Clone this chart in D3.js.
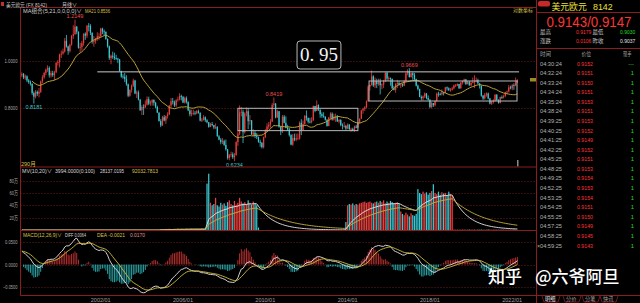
<!DOCTYPE html>
<html><head><meta charset="utf-8">
<script src="https://cdn.jsdelivr.net/npm/d3@7"></script>
<style>
html,body{margin:0;padding:0;background:#000;overflow:hidden;}
svg{display:block;}
</style></head><body>
<svg id="c" width="640" height="303"></svg>
<script>
// ---------------- data (USD/EUR monthly, 1998/03 .. 2022/04) ----------------
const firstMonth = [1998, 3];
const firstOpen = 0.935;
const closes = [
.940,.925,.930,.912,.905,.898,.860,.845,.865,.857,
.865,.908,.926,.945,.960,.968,.935,.944,.935,.948,.991,.995,
1.032,1.036,1.046,1.100,1.071,1.048,1.080,1.126,1.135,1.176,1.148,1.065,
1.068,1.088,1.137,1.127,1.181,1.180,1.142,1.097,1.098,1.110,1.124,1.125,
1.165,1.150,1.147,1.110,1.072,1.014,1.025,1.020,1.014,1.011,1.007,.953,
.929,.928,.918,.896,.849,.872,.890,.912,.858,.862,.834,.793,
.805,.804,.814,.835,.818,.822,.832,.821,.805,.784,.753,.738,
.767,.755,.771,.777,.811,.827,.824,.811,.831,.834,.848,.844,
.822,.839,.824,.792,.778,.782,.783,.781,.789,.783,.755,.758,
.767,.756,.749,.733,.743,.739,.731,.733,.701,.690,.682,.685,
.673,.659,.633,.642,.644,.635,.641,.682,.710,.785,.787,.715,
.781,.789,.753,.756,.707,.713,.702,.699,.683,.680,.666,.698,
.721,.734,.740,.751,.813,.818,.766,.789,.733,.718,.769,.747,
.730,.724,.705,.674,.695,.690,.694,.694,.747,.722,.743,.772,
.765,.751,.750,.755,.809,.790,.812,.795,.778,.771,.769,.758,
.736,.766,.780,.759,.769,.769,.752,.757,.739,.736,.736,.727,
.741,.725,.726,.721,.734,.730,.747,.762,.792,.798,.804,.826,
.886,.893,.930,.891,.910,.897,.910,.892,.895,.909,.946,.920,
.923,.919,.879,.873,.898,.901,.895,.896,.890,.910,.944,.951,
.927,.944,.936,.918,.890,.876,.844,.839,.846,.858,.840,.833,
.805,.820,.812,.828,.857,.856,.855,.862,.861,.883,.879,.872,
.873,.879,.891,.891,.897,.879,.904,.910,.917,.897,.907,.891,
.902,.906,.907,.913,.900,.890,.849,.838,.853,.858,.838,.818,
.824,.829,.853,.832,.820,.843,.842,.847,.863,.866,.883,.879,
.892,.891,.904,.9143];
const highs = [
.948,.945,.938,.935,.918,.912,.900,.866,.872,.870,
.880,.912,.935,.950,.965,.980,.975,.955,.955,.955,.995,1.005,
1.035,1.050,1.060,1.115,1.131,1.075,1.085,1.130,1.184,1.2149,1.180,1.150,
1.090,1.100,1.140,1.145,1.185,1.196,1.190,1.145,1.125,1.115,1.145,1.140,
1.170,1.170,1.160,1.150,1.112,1.075,1.030,1.045,1.040,1.030,1.015,1.010,
.955,.940,.945,.935,.899,.875,.895,.920,.915,.870,.870,.835,
.812,.815,.830,.846,.845,.830,.835,.835,.825,.810,.785,.760,
.772,.775,.773,.785,.812,.840,.840,.830,.835,.845,.859,.853,
.848,.845,.846,.827,.797,.795,.795,.790,.793,.795,.785,.765,
.775,.770,.760,.750,.747,.750,.740,.745,.735,.705,.695,.695,
.690,.690,.660,.645,.652,.650,.648,.685,.720,.811,.805,.795,
.785,.803,.800,.775,.757,.725,.720,.712,.700,.690,.682,.700,
.725,.745,.750,.760,.820,.8419,.820,.795,.790,.735,.775,.775,
.770,.740,.730,.708,.708,.710,.710,.710,.752,.760,.755,.775,
.792,.765,.765,.767,.810,.807,.830,.815,.795,.785,.785,.770,
.760,.768,.785,.785,.780,.780,.775,.760,.760,.745,.750,.740,
.745,.742,.730,.730,.737,.740,.748,.763,.795,.802,.808,.830,
.892,.896,.956,.935,.925,.920,.920,.920,.900,.915,.948,.950,
.930,.925,.920,.890,.900,.915,.910,.900,.900,.915,.948,.962,
.9669,.946,.948,.945,.920,.895,.878,.850,.850,.862,.860,.850,
.835,.825,.820,.830,.862,.865,.862,.875,.865,.885,.887,.883,
.880,.885,.895,.897,.900,.898,.905,.912,.920,.918,.910,.910,
.908,.925,.935,.925,.920,.900,.890,.852,.860,.862,.862,.840,
.830,.835,.855,.855,.835,.845,.850,.853,.865,.870,.893,.890,
.897,.900,.925,.9179];
const lows = [
.926,.918,.915,.905,.898,.890,.852,.8181,.838,.848,
.842,.860,.900,.920,.935,.950,.925,.925,.928,.915,.945,.978,
.970,1.015,1.030,1.040,1.065,1.030,1.040,1.075,1.110,1.130,1.135,1.060,
1.040,1.050,1.075,1.105,1.115,1.150,1.130,1.085,1.070,1.085,1.100,1.105,
1.120,1.135,1.130,1.105,1.065,1.005,.985,1.010,1.005,1.005,.990,.952,
.924,.920,.905,.890,.843,.845,.862,.885,.855,.840,.830,.790,
.775,.775,.800,.810,.812,.810,.810,.810,.800,.782,.752,.732,
.736,.752,.743,.762,.775,.805,.815,.805,.805,.825,.830,.830,
.820,.818,.818,.790,.770,.770,.775,.774,.778,.780,.752,.750,
.755,.750,.745,.730,.732,.735,.725,.725,.700,.688,.675,.676,
.670,.655,.628,.626,.635,.630,.6234,.640,.670,.705,.770,.679,
.710,.770,.725,.740,.705,.700,.695,.692,.680,.667,.662,.662,
.695,.715,.725,.730,.750,.805,.763,.765,.730,.705,.712,.745,
.728,.720,.700,.672,.670,.685,.685,.690,.690,.705,.720,.740,
.755,.745,.745,.745,.755,.785,.790,.790,.765,.765,.765,.755,
.734,.735,.760,.755,.755,.750,.750,.745,.735,.724,.730,.720,
.725,.722,.716,.718,.716,.728,.730,.745,.760,.780,.790,.800,
.825,.870,.890,.885,.880,.880,.890,.854,.875,.880,.905,.910,
.910,.890,.875,.870,.861,.880,.890,.880,.885,.888,.905,.935,
.925,.925,.915,.910,.887,.870,.843,.830,.830,.840,.835,.830,
.800,.800,.805,.807,.825,.845,.850,.850,.850,.860,.870,.868,
.865,.870,.875,.885,.888,.877,.878,.895,.900,.893,.895,.890,
.890,.900,.880,.905,.897,.878,.845,.832,.834,.845,.835,.815,
.813,.818,.826,.828,.818,.819,.836,.838,.845,.855,.862,.875,
.871,.873,.888,.9030];
// volume in 万 (10k)
const volumes = [
0,0,0,0,0,0,0,0,0,0, 0,0,0,0,0,0,0,0,0,0, 0,0,0,0,0,0,0,0,0,0, 0,0,0,0,0,0,0,0,0,0,
0,0,0,0,0,0,0,0,0,0, 0,0,0,0,0,0,0,0,0,0, 0,0,0,0,0,0,0,0,0,0, 0,0,0,0,0,0,0,0,0,0, 0,
1.2,1.5,1.0,1.8,1.4,2.0,1.6,1.3,1.7,1.5,2.2,1.4,1.8,1.6,1.2,1.9,1.5,1.7,2.0,1.4,1.6,1.8,1.3,1.5,2.1,1.7,1.6,
75,91,44,40,42,52,40,38,44,41,43,39,45,48,42,40,47,41,44,52,46,43,45,42,48,44,41,46,43,40,
4,
0,0,0,0,0,0,0,0,0,0, 0,0,0,0,0,0,0,0,0,0, 0,0,0,0,0,0,0,0,0,0, 0,0,0,0,0,0,0,0,0,0, 0,0,0,0,0,0,0,0,0,0,
13,
40,42,41,43,40,42,41,43,
44,45,46,44,45,46,44,43,45,
46,44,47,45,48,43,46,44,47,45,43,
44,45,42,
30,26,24,28,25,22,27,24,23,26,
66,
60,58,62,59,61,57,60,63,
74,
60,58,62,57,61,59,60,56,62,58,55,
0.8,0.6,0.7,0.5,0.6,0.9,0.7,0.5,0.6,0.8,0.7,0.6,0.9,0.5,0.7,0.6,0.8,0.5,0.6,0.7,
0.9,0.6,0.5,0.7,0.8,0.6,0.5,0.7,0.6,0.8,0.5,0.6,0.7,0.5,0.6,0.8,0.5,0.3994];
const xTickLabels = ["2002/01","2006/01","2010/01","2014/01","2018/01","2022/01"];
const priceTicks = [1.0, 0.8];
const volTicks = [20, 40, 60, 80];
const macdTicks = [0.05, 0, -0.05];
const macdSeed = [0.030, 0.030];
const markedHighs = [31, 147, 226];
const markedLows = [7, 124];
const hLines = [{price: 0.95, from: 44, to: 290}];
const boxes = [{from: 126, to: 196, top: 0.80, bottom: 0.72},
               {from: 202.5, to: 288.8, top: 0.91, bottom: 0.828}];
const noteBox = {label: "0. 95", from: 160.5, to: 186.1, top: 1.099, bottom: 0.963};
const quoteHead = ["美元欧元", "8142"];
const quotePrice = "0.9143/0.9147";
const quoteStats = [["最高","0.9179","最低","0.9030"],["涨跌","0.0106","昨收","0.9037"]];
const tickHead = ["时间","价位","现手"];
const tickRows = [
["04:30:24","0.9152","---"],["04:32:24","0.9151","1"],["04:33:24","0.9150","1"],["04:34:24","0.9151","1"],
["04:35:24","0.9153","1"],["04:38:24","0.9151","1"],["04:39:25","0.9153","1"],["04:40:25","0.9152","1"],
["04:41:25","0.9149","1"],["04:42:25","0.9152","1"],["04:45:25","0.9151","1"],["04:48:25","0.9153","1"],
["04:49:25","0.9154","1"],["04:52:25","0.9153","1"],["04:53:25","0.9154","1"],["04:54:25","0.9151","1"],
["04:55:25","0.9150","1"],["04:57:25","0.9149","1"],["04:58:25","0.9145","1"],["04:59:25","0.9143","1"]];
const tabs = ["明细","分价","分笔","快讯"];

// ---------------- drawing ----------------
const svg = d3.select("#c");
const FONT = "'Liberation Sans','Noto Sans CJK SC',sans-serif";
const RED = "#e8403f", CYAN = "#3cc8d2", BORDER = "#8a1e1e", GRID = "#6e1c1c";
const L = 20.5, R = 536.5;
const n = closes.length;
const opens = closes.map((c, i) => i === 0 ? firstOpen : closes[i - 1]);

const x = d3.scaleBand().domain(d3.range(n)).range([21, 21 + n * 1.7145]);
const bw = x.bandwidth();
const xc = i => x(i) + bw / 2;
const xf = f => x(0) + (f + 0.5) * bw;
const y = d3.scaleLog().domain([0.8, 1.0]).range([108.3, 61]);
const yv = d3.scaleLinear().domain([0, 80]).range([230, 180.5]);
const ym = d3.scaleLinear().domain([-0.05, 0.05]).range([286.7, 242.3]);

function txt(g, X, Y, s, o = {}) {
  const t = g.append("text").attr("x", X).attr("y", Y).text(s)
    .attr("font-size", o.size || 6).attr("fill", o.fill || "#b0b0b0")
    .attr("text-anchor", o.anchor || "start")
    .attr("font-family", o.family || FONT);
  if (o.len) t.attr("textLength", o.len).attr("lengthAdjust", "spacingAndGlyphs");
  return t;
}
const defs = svg.append("defs");
function clip(id, x0, y0, x1, y1) {
  defs.append("clipPath").attr("id", id).append("rect")
    .attr("x", x0).attr("y", y0).attr("width", x1 - x0).attr("height", y1 - y0);
}
clip("cm", 21, 7.5, 536, 166.5);
clip("cv", 21, 167.5, 536, 230);
clip("cd", 21, 231, 536, 295);

// grid
const grid = svg.append("g").attr("stroke", GRID).attr("stroke-dasharray", "1,2").attr("stroke-width", 1);
priceTicks.forEach(p => grid.append("line").attr("x1", L).attr("x2", R).attr("y1", Math.round(y(p)) + .5).attr("y2", Math.round(y(p)) + .5));
volTicks.forEach(v => grid.append("line").attr("x1", L).attr("x2", R).attr("y1", Math.round(yv(v)) + .5).attr("y2", Math.round(yv(v)) + .5));
macdTicks.forEach(v => grid.append("line").attr("x1", L).attr("x2", R).attr("y1", Math.round(ym(v)) + .5).attr("y2", Math.round(ym(v)) + .5));

// axis labels
priceTicks.forEach(p => txt(svg, 17.5, y(p) + 2, d3.format(".4f")(p), {size: 5.5, anchor: "end", fill: "#a8a8a8", len: 13}));
volTicks.forEach(v => txt(svg, 18, yv(v) + 2, v + "万", {size: 5.5, anchor: "end", fill: "#a8a8a8", len: 8.5}));
macdTicks.forEach(v => {
  const s = d3.format(".4f")(v);
  txt(svg, 17.5, ym(v) + 2, s, {size: 5.5, anchor: "end", fill: "#a8a8a8", len: s.length > 6 ? 14.5 : 12.5});
});
xTickLabels.forEach(s => {
  const [yy, mm] = s.split("/").map(Number);
  const i = (yy - firstMonth[0]) * 12 + (mm - firstMonth[1]);
  txt(svg, xc(i), 301.5, s, {size: 5.5, anchor: "middle", fill: "#a0a0a0"});
});

// main panel
const gm = svg.append("g").attr("clip-path", "url(#cm)");
const cw = Math.max(1, bw * 0.72);
d3.range(n).forEach(i => {
  const o = opens[i], c = closes[i];
  const col = c >= o ? RED : CYAN;
  const hi = Math.max(highs[i], o, c), lo = Math.min(lows[i], o, c);
  gm.append("line").attr("x1", xc(i)).attr("x2", xc(i)).attr("y1", y(hi)).attr("y2", y(lo))
    .attr("stroke", col).attr("stroke-width", 0.8);
  const t = y(Math.max(o, c)), b = y(Math.min(o, c));
  gm.append("rect").attr("x", xc(i) - cw / 2).attr("y", t).attr("width", cw).attr("height", Math.max(0.8, b - t))
    .attr("fill", col);
});
// MA21
const ma = closes.map((c, i) => i < 6 ? null : d3.mean(closes.slice(Math.max(0, i - 20), i + 1)));
gm.append("path").attr("fill", "none").attr("stroke", "#b8a23a").attr("stroke-width", 1)
  .attr("d", d3.line().defined(d => d != null).x((d, i) => xc(i)).y(d => y(d))(ma));
// annotations
hLines.forEach(h => gm.append("line").attr("x1", xf(h.from)).attr("x2", xf(h.to)).attr("y1", y(h.price)).attr("y2", y(h.price))
  .attr("stroke", "#c8c8c8").attr("stroke-width", 1));
boxes.forEach(b => gm.append("rect").attr("x", xf(b.from)).attr("y", y(b.top)).attr("width", xf(b.to) - xf(b.from))
  .attr("height", y(b.bottom) - y(b.top)).attr("fill", "none").attr("stroke", "#b8b8b8").attr("stroke-width", 1));
svg.append("rect").attr("x", xf(noteBox.from)).attr("y", y(noteBox.top)).attr("width", xf(noteBox.to) - xf(noteBox.from))
  .attr("height", y(noteBox.bottom) - y(noteBox.top)).attr("rx", 3).attr("fill", "#000").attr("stroke", "#b8b8b8").attr("stroke-width", 1);
txt(svg, (xf(noteBox.from) + xf(noteBox.to)) / 2, (y(noteBox.top) + y(noteBox.bottom)) / 2 + 6.5, noteBox.label,
  {size: 19, anchor: "middle", fill: "#f4f4f4", family: "'Liberation Serif','DejaVu Serif',serif"});
// extreme labels
markedHighs.forEach(i => txt(svg, xc(i), y(highs[i]) - 1.5, d3.format(".4f")(highs[i]), {size: 5.5, anchor: "middle", fill: "#e85050"}));
markedLows.forEach(i => txt(svg, xc(i), y(lows[i]) + 5.5, d3.format(".4f")(lows[i]), {size: 5.5, anchor: "middle", fill: "#40c8d0"}));
// last bar marker
svg.append("line").attr("x1", xc(n - 1) + .5).attr("x2", xc(n - 1) + .5).attr("y1", 160).attr("y2", 166.5).attr("stroke", "#d0d0d0").attr("stroke-width", 1);
svg.append("rect").attr("x", 530).attr("y", y(closes[n - 1]) - 2).attr("width", 6).attr("height", 3.5).attr("fill", "#a08a28");

// volume panel
const gv = svg.append("g").attr("clip-path", "url(#cv)");
d3.range(n).forEach(i => {
  if (volumes[i] <= 0) return;
  const col = closes[i] >= opens[i] ? RED : CYAN;
  gv.append("rect").attr("x", xc(i) - cw / 2).attr("y", yv(volumes[i])).attr("width", cw)
    .attr("height", Math.max(0.6, yv(0) - yv(volumes[i]))).attr("fill", col);
});
function sma(arr, N) { let m = 0; return arr.map(v => (m = (v + (N - 1) * m) / N)); }
const mv10 = sma(volumes, 10), mv20 = sma(volumes, 20);
gv.append("path").attr("fill", "none").attr("stroke", "#e8e8e8").attr("stroke-width", 0.9)
  .attr("d", d3.line().x((d, i) => xc(i)).y(d => yv(d))(mv10));
gv.append("path").attr("fill", "none").attr("stroke", "#c8b040").attr("stroke-width", 0.9)
  .attr("d", d3.line().x((d, i) => xc(i)).y(d => yv(d))(mv20));

// MACD panel
let e12 = closes[0], e26 = closes[0] - macdSeed[0], dea = macdSeed[1];
const diffs = [], deas = [], hist = [];
closes.forEach((c, i) => {
  if (i > 0) { e12 = (2 * c + 11 * e12) / 13; e26 = (2 * c + 25 * e26) / 27; }
  const df = e12 - e26;
  if (i > 0) dea = (2 * df + 8 * dea) / 10;
  diffs.push(df); deas.push(dea); hist.push(2 * (df - dea));
});
const gd = svg.append("g").attr("clip-path", "url(#cd)");
hist.forEach((h, i) => gd.append("line").attr("x1", xc(i)).attr("x2", xc(i)).attr("y1", ym(0)).attr("y2", ym(h))
  .attr("stroke", h >= 0 ? "#c83434" : "#2fb4b8").attr("stroke-width", 0.9));
gd.append("path").attr("fill", "none").attr("stroke", "#e8e8e8").attr("stroke-width", 0.9)
  .attr("d", d3.line().x((d, i) => xc(i)).y(d => ym(d))(diffs));
gd.append("path").attr("fill", "none").attr("stroke", "#d2be3c").attr("stroke-width", 0.9)
  .attr("d", d3.line().x((d, i) => xc(i)).y(d => ym(d))(deas));

// borders
const gb = svg.append("g").attr("stroke", BORDER).attr("stroke-width", 1);
[[L, 7.5, R, 7.5], [L, 167, R, 167], [L, 230.5, R, 230.5], [L, 295.5, R, 295.5],
 [L, 7.5, L, 295.5], [R, 0, R, 303], [R, 12.5, 640, 12.5], [R, 48.5, 640, 48.5], [R, 295.5, 640, 295.5]]
  .forEach(a => gb.append("line").attr("x1", a[0]).attr("y1", a[1]).attr("x2", a[2]).attr("y2", a[3]));

// headers
svg.append("rect").attr("x", 1).attr("y", 2).attr("width", 3).attr("height", 4).attr("fill", "#c03030");
txt(svg, 6, 6.5, "美元欧元 (FX 8142)", {size: 5.5, fill: "#c8c8c8", len: 41});
txt(svg, 62, 6.5, "月线∨", {size: 5.5, fill: "#d0d0d0", len: 15});
txt(svg, 23, 13, "MA组合(5,21,0,0,0,0)∨", {size: 5.5, fill: "#d0d0d0", len: 59});
txt(svg, 85, 13, "MA21 " + d3.format(".4f")(0.8536), {size: 5.5, fill: "#d8c24a", len: 25});
txt(svg, 533, 12, "对数坐标", {size: 5, anchor: "end", fill: "#d8c24a"});
txt(svg, 21, 165.5, n + "月", {size: 5.5, fill: "#d8c24a"});
txt(svg, 22, 173, "MV(10,20)∨", {size: 5.5, fill: "#d8d8d8", len: 30});
txt(svg, 55, 173, "3994.0000(0:100)", {size: 5.5, fill: "#d8d8d8", len: 40});
txt(svg, 100, 173, "28137.0195", {size: 5.5, fill: "#d8d8d8", len: 24});
txt(svg, 132, 173, "92032.7813", {size: 5.5, fill: "#d8c24a", len: 26});
txt(svg, 23, 236.5, "MACD(12,26,9)∨", {size: 5.5, fill: "#d8c24a", len: 39});
txt(svg, 65, 236.5, "DIFF 0.0064", {size: 5.5, fill: "#d8d8d8", len: 21});
txt(svg, 97, 236.5, "DEA -0.0021", {size: 5.5, fill: "#d8c24a", len: 28});
txt(svg, 130, 236.5, "0.0170", {size: 5.5, fill: "#e09090", len: 15});

// right quote panel
svg.append("rect").attr("x", 538).attr("y", 1).attr("width", 12).attr("height", 5.5).attr("rx", 2).attr("fill", "#c82828");
txt(svg, 551.5, 10, quoteHead[0], {size: 8.8, fill: "#ece03a"});
txt(svg, 593, 10, quoteHead[1], {size: 8.8, fill: "#ece03a"});
txt(svg, 546.5, 26.5, quotePrice, {size: 14.5, fill: "#ff3434", len: 85});
quoteStats.forEach((r, k) => {
  const yy = 33.5 + k * 9;
  txt(svg, 540, yy, r[0], {size: 5.5, fill: "#c0c0c0"});
  txt(svg, 576, yy, r[1], {size: 5, fill: "#ff3434"});
  txt(svg, 592.5, yy, r[2], {size: 5.5, fill: "#c0c0c0"});
  txt(svg, 620, yy, r[3], {size: 5, fill: k === 0 ? "#22dd22" : "#e0e0e0"});
});
txt(svg, 540, 55.5, tickHead[0], {size: 5.8, fill: "#a0a0a0", len: 11});
txt(svg, 581.5, 55.5, tickHead[1], {size: 5.8, fill: "#a0a0a0", len: 9.5});
txt(svg, 623, 55.5, tickHead[2], {size: 5.8, fill: "#a0a0a0", len: 8.5});
tickRows.forEach((r, k) => {
  const yy = 65.5 + k * 9.58;
  txt(svg, 540, yy, r[0], {size: 5.8, fill: "#b4b4b4", len: 22});
  txt(svg, 577, yy, r[1], {size: 5.8, fill: "#ff3434", len: 16});
  txt(svg, 634, yy, r[2], {size: 5.8, anchor: "end", fill: "#22dd22"});
});
txt(svg, 537, 247.5, "×", {size: 5, fill: "#d8c24a"});
const tabX = [545, 566, 585, 603];
tabs.forEach((s, k) => {
  const x0 = tabX[k] - 3;
  svg.append("path").attr("d", `M${x0},296 L${x0 + 2},302 L${x0 + 16},302 L${x0 + 18},296`)
    .attr("fill", "none").attr("stroke", BORDER).attr("stroke-width", 0.8);
  txt(svg, tabX[k], 301, s, {size: 5.2, fill: k === 0 ? "#e0e0e0" : "#a0a0a0"});
});

// watermark
const wm = {family: "'Noto Sans CJK SC',sans-serif", size: 17, fill: "#ffffff"};
txt(svg, 488, 283, "知乎", wm).attr("font-weight", 500);
txt(svg, 535, 283, "@六爷阿旦", wm).attr("font-weight", 500);
</script>
</body></html>
